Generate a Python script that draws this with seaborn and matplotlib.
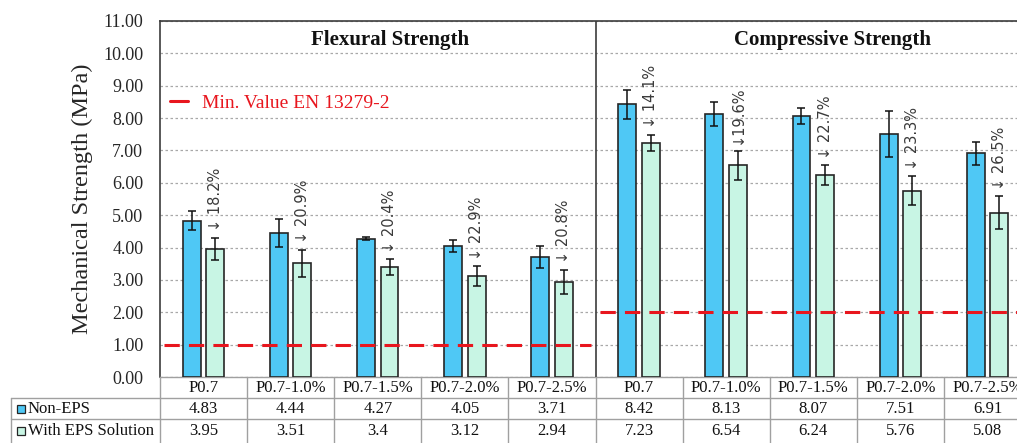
import matplotlib
matplotlib.use("Agg")
import matplotlib.pyplot as plt
import matplotlib.transforms as mtransforms
from matplotlib.lines import Line2D
from matplotlib.patches import Rectangle
import pandas as pd
import seaborn as sns

# ---- data -------------------------------------------------------------
tests = ["Flexural Strength", "Compressive Strength"]
mixes = ["P0.7", "P0.7-1.0%", "P0.7-1.5%", "P0.7-2.0%", "P0.7-2.5%"]
series = ["Non-EPS", "With EPS Solution"]

flex_non_eps = [4.83, 4.44, 4.27, 4.05, 3.71]
flex_eps = [3.95, 3.51, 3.40, 3.12, 2.94]
comp_non_eps = [8.42, 8.13, 8.07, 7.51, 6.91]
comp_eps = [7.23, 6.54, 6.24, 5.76, 5.08]

# standard deviations (error bars)
flex_non_eps_sd = [0.30, 0.43, 0.05, 0.18, 0.33]
flex_eps_sd = [0.35, 0.42, 0.24, 0.30, 0.38]
comp_non_eps_sd = [0.46, 0.36, 0.24, 0.70, 0.36]
comp_eps_sd = [0.26, 0.45, 0.30, 0.45, 0.50]

reduction_labels = ["↓ 18.2%", "↓ 20.9%", "↓ 20.4%", "↓ 22.9%", "↓ 20.8%",
                    "↓ 14.1%", "↓19.6%", "↓ 22.7%", "↓ 23.3%", "↓ 26.5%"]

min_values = [1.0, 2.0]          # EN 13279-2 minimum: flexural, compressive
min_label = "Min. Value EN 13279-2"

# ---- long-form table ----------------------------------------------------
slots = [f"{t}|{m}" for t in tests for m in mixes]
non_eps = flex_non_eps + comp_non_eps
eps = flex_eps + comp_eps
non_eps_sd = flex_non_eps_sd + comp_non_eps_sd
eps_sd = flex_eps_sd + comp_eps_sd

records = []
for s, a, b in zip(slots, non_eps, eps):
    records.append({"slot": s, "series": series[0], "value": a})
    records.append({"slot": s, "series": series[1], "value": b})
df = pd.DataFrame(records)

# ---- style --------------------------------------------------------------
sns.set_style("white")
plt.rcParams["font.family"] = ["Liberation Serif", "DejaVu Serif"]

BLUE = "#4FC8F5"
MINT = "#C8F5E4"
RED = "#E8161E"
DARK = "#3C3C3C"
GRID = "#A8A8A8"
TABLE = "#A0A0A0"

W, H = 1017, 443
fig = plt.figure(figsize=(W / 100, H / 100), dpi=100)
AX_L, AX_R, AX_T, AX_B = 160, 1031, 21, 377
ax = fig.add_axes([AX_L / W, (H - AX_B) / H, (AX_R - AX_L) / W, (AX_B - AX_T) / H])

sns.barplot(data=df, x="slot", y="value", hue="series", order=slots,
            hue_order=series, palette=[BLUE, MINT], saturation=1,
            width=0.54, gap=0.24, edgecolor="#262626", linewidth=1.2,
            errorbar=None, legend=False, ax=ax, zorder=3)

ax.set_xlim(-0.5, len(slots) - 0.5)
ax.set_ylim(0, 11)
ax.set_yticks(range(0, 12))
ax.set_yticklabels([f"{v:.2f}" for v in range(0, 12)], fontsize=13)
ax.tick_params(axis="y", direction="out", length=6, width=1, color=DARK, pad=6)
ax.tick_params(axis="x", length=0, labelbottom=False)
ax.set_xlabel("")
ax.set_ylabel("Mechanical Strength (MPa)", fontsize=17.5, labelpad=7)
ax.yaxis.grid(True, linestyle=(0, (2, 2)), color=GRID, linewidth=0.9)
ax.set_axisbelow(True)
for side in ("left", "top"):
    ax.spines[side].set_color(DARK)
    ax.spines[side].set_linewidth(1.2)
ax.spines["right"].set_visible(False)
ax.spines["bottom"].set_color(TABLE)
ax.spines["bottom"].set_linewidth(1.0)

# error bars and reduction labels, placed on the drawn bars
bars_a, bars_b = ax.containers[0], ax.containers[1]
xa = [p.get_x() + p.get_width() / 2 for p in bars_a]
ha_ = [p.get_height() for p in bars_a]
xb = [p.get_x() + p.get_width() / 2 for p in bars_b]
hb = [p.get_height() for p in bars_b]
ax.errorbar(xa, ha_, yerr=non_eps_sd, fmt="none", ecolor="#111111",
            elinewidth=1.1, capsize=3.2, capthick=1.1, zorder=4)
ax.errorbar(xb, hb, yerr=eps_sd, fmt="none", ecolor="#111111",
            elinewidth=1.1, capsize=3.2, capthick=1.1, zorder=4)
for x, h, sd, lab in zip(xb, hb, eps_sd, reduction_labels):
    ax.text(x, h + sd + 0.2, lab, rotation=90, ha="center", va="bottom",
            fontsize=10.5, color="#3A3A3A",
            family=["Liberation Sans Narrow", "DejaVu Sans"], zorder=5)

# minimum-value lines per test
n = len(mixes)
for k, mv in enumerate(min_values):
    ax.hlines(mv, k * n - 0.45, (k + 1) * n - 0.55 + (0.2 if k else 0),
              colors=RED, linestyles=(0, (5, 3)), linewidth=2.2, zorder=4)
ax.legend(handles=[Line2D([0], [0], color=RED, lw=2.2)], labels=[min_label],
          loc="upper left", bbox_to_anchor=(0.012, 0.793), frameon=False,
          handlelength=0.9, handletextpad=0.7, borderpad=0, borderaxespad=0,
          fontsize=14, labelcolor=RED)

# section divider and titles
ax.axvline(n - 0.5, color=DARK, linewidth=1.2, zorder=5)
ax.text(2.14, 10.4, tests[0], ha="center", va="center", fontsize=15,
        fontweight="bold", color="#111111")
ax.text(7.22, 10.4, tests[1], ha="center", va="center", fontsize=15,
        fontweight="bold", color="#111111")

# ---- data table underneath ------------------------------------------------
tx = mtransforms.blended_transform_factory(ax.transData, fig.transFigure)


def fy(py):
    return (H - py) / H


def fx(px):
    return px / W


left_px = 11
for i in range(len(slots) + 1):
    x = i - 0.5
    fig.add_artist(Line2D([x, x], [fy(377), fy(H + 2)], transform=tx,
                          color=TABLE, lw=1.0))
fig.add_artist(Line2D([fx(left_px), fx(left_px)], [fy(398), fy(H + 2)],
                      transform=fig.transFigure, color=TABLE, lw=1.0))
for py in (398, 419):
    fig.add_artist(Line2D([fx(left_px), 1.0], [fy(py), fy(py)],
                          transform=fig.transFigure, color=TABLE, lw=1.0))

for i, s in enumerate(slots):
    fig.text(i, fy(388), mixes[i % n], transform=tx, ha="center", va="center",
             fontsize=12, color="#111111")
    fig.text(i, fy(409), f"{non_eps[i]:g}", transform=tx, ha="center",
             va="center", fontsize=12, color="#111111")
    fig.text(i, fy(431), f"{eps[i]:g}", transform=tx, ha="center",
             va="center", fontsize=12, color="#111111")

for py, name, colr in [(409, series[0], BLUE), (431, series[1], MINT)]:
    fig.add_artist(Rectangle((fx(17), fy(py + 4)), 8 / W, 8 / H,
                             transform=fig.transFigure, facecolor=colr,
                             edgecolor="#262626", lw=0.9))
    fig.text(fx(28), fy(py), name, ha="left", va="center", fontsize=12,
             color="#111111")

fig.savefig("out.png", dpi=100)
